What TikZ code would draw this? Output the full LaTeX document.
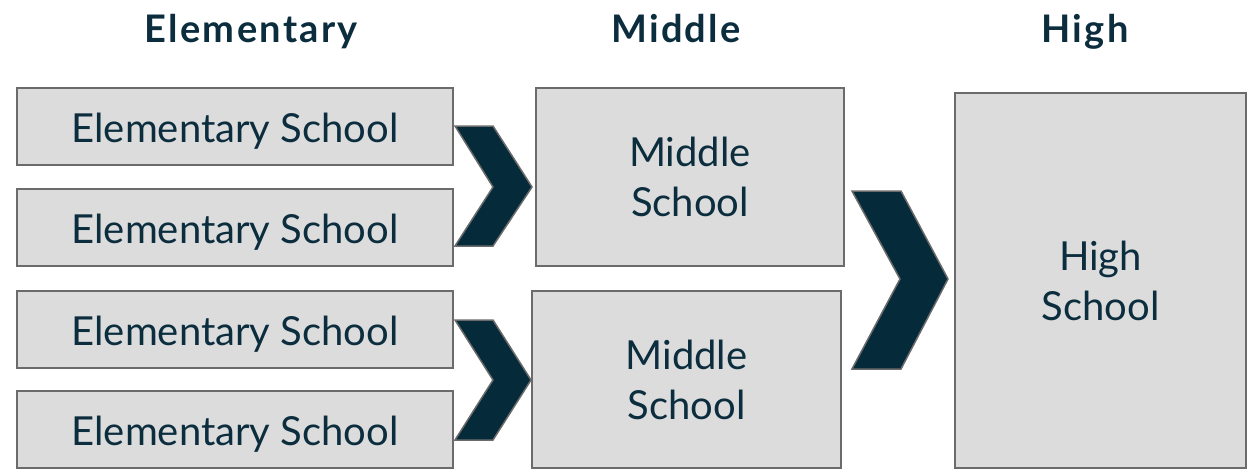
\documentclass[tikz,border=0pt]{standalone}
\usepackage{fontspec}
\setmainfont{Lato}
\definecolor{navy}{HTML}{0B2D3E}
\definecolor{chev}{HTML}{052A3A}
\definecolor{edge}{HTML}{6B6B6B}
\definecolor{boxfill}{HTML}{DCDCDC}
\tikzset{
  box/.style={draw=edge, line width=2pt, fill=boxfill, anchor=north west, inner sep=0pt,
    text=navy, align=center, font=\fontsize{40}{50}\selectfont},
  elbox/.style={box, minimum width=436pt, minimum height=77pt, text depth=0pt, text height=31pt},
  header/.style={text=navy, font=\fontsize{38}{44}\selectfont\bfseries\addfontfeature{LetterSpace=6}, inner sep=0pt, anchor=base},
  chevron/.style={draw=edge, line width=1.5pt, fill=chev, line join=miter}
}
\begin{document}
\begin{tikzpicture}[x=1pt,y=-1pt]
\path[use as bounding box] (0,0) rectangle (1255,471);
\node[header] (h1) at (251,42) {Elementary};
\node[header] (h2) at (676,42) {Middle};
\node[header] (h3) at (1085,42) {High};
\node[elbox] (e1) at (16,87) {Elementary School};
\node[elbox] (e2) at (16,188) {Elementary School};
\node[elbox] (e3) at (16,290) {Elementary School};
\node[elbox] (e4) at (16,390) {Elementary School};
\node[box, minimum width=308pt, minimum height=178pt] (m1) at (535,87) {Middle\\School};
\node[box, minimum width=309pt, minimum height=177pt] (m2) at (531,290) {Middle\\School};
\node[box, minimum width=291pt, minimum height=375pt] (hs) at (954,92) {High\\School};
\draw[chevron] (455,126) -- (493,126) -- (532,187) -- (493,246) -- (455,246) -- (493,187) -- cycle;
\draw[chevron] (455,320) -- (493,320) -- (531,380) -- (493,440) -- (455,440) -- (493,380) -- cycle;
\draw[chevron] (852,191) -- (901,191) -- (948,279) -- (901,369) -- (852,369) -- (900,279) -- cycle;
\end{tikzpicture}
\end{document}
